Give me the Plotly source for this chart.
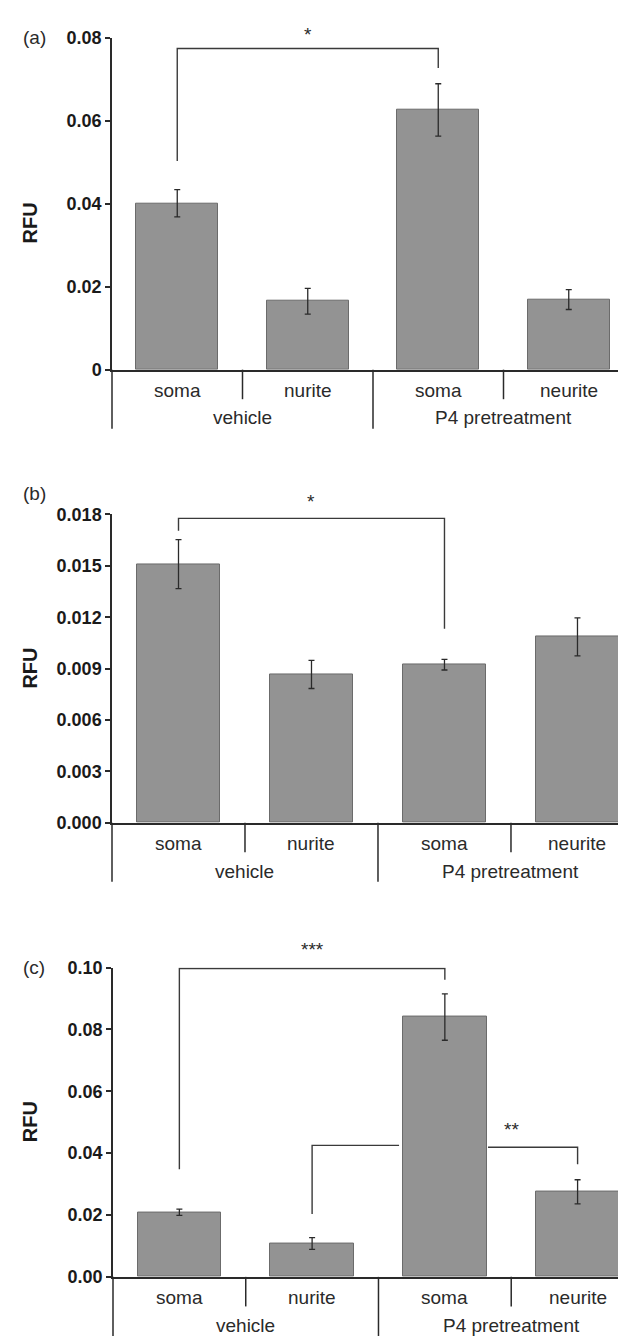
import plotly.graph_objects as go

W, H = 626, 1336

# ---------------- data ----------------
categories = ["soma", "nurite", "soma", "neurite"]
groups = ["vehicle", "P4 pretreatment"]

a_values = [0.0401, 0.0165, 0.0626, 0.0169]
a_errors = [0.0033, 0.0031, 0.0063, 0.0024]
a_ticks = [0, 0.02, 0.04, 0.06, 0.08]
a_ticktext = ["0", "0.02", "0.04", "0.06", "0.08"]

b_values = [0.01510, 0.00866, 0.00923, 0.01085]
b_errors = [0.00143, 0.00082, 0.00031, 0.00111]
b_ticks = [0, 0.003, 0.006, 0.009, 0.012, 0.015, 0.018]
b_ticktext = ["0.000", "0.003", "0.006", "0.009", "0.012", "0.015", "0.018"]

c_values = [0.0209, 0.0108, 0.0840, 0.0275]
c_errors = [0.0010, 0.0019, 0.0075, 0.0039]
c_ticks = [0, 0.02, 0.04, 0.06, 0.08, 0.10]
c_ticktext = ["0.00", "0.02", "0.04", "0.06", "0.08", "0.10"]

# significance brackets: (x_from, x_to, leg_from_bottom, top, leg_to_bottom, label, label_y)
a_brackets = [(0, 2, 0.0503, 0.0774, 0.0727, "*", 0.0808)]
b_brackets = [(0, 2, 0.01705, 0.01777, 0.01133, "*", 0.01875)]
c_brackets = [(0, 2, 0.0348, 0.0997, 0.0961, "***", 0.1058)]
c_bracket2 = (1, 3, 0.0203, 0.0425, 0.0364, "**", 0.0478)

# ---------------- layout geometry (pixels) ----------------
panels = [
    dict(name="(a)", vals=a_values, errs=a_errors, ticks=a_ticks, ttext=a_ticktext,
         top=20, bottom=357, left=104, xr=[-0.5, 3.5], brackets=a_brackets, lab_y=20),
    dict(name="(b)", vals=b_values, errs=b_errors, ticks=b_ticks, ttext=b_ticktext,
         top=504, bottom=817, left=104, xr=[-0.5, 3.425], brackets=b_brackets, lab_y=483),
    dict(name="(c)", vals=c_values, errs=c_errors, ticks=c_ticks, ttext=c_ticktext,
         top=964, bottom=1278, left=105, xr=[-0.5, 3.425], brackets=c_brackets, lab_y=964),
]

FONT = "Liberation Sans, Arial, sans-serif"
BAR = "#939393"
BAR_EDGE = "#6b6b6b"
INK = "#2a2a2a"


def py(px):
    return 1 - px / H


def val_paper(p, v):
    ymax = p["ticks"][-1]
    px = p["bottom"] - v / ymax * (p["bottom"] - p["top"])
    return py(px)


fig = go.Figure()
shapes = []
annotations = []

for i, p in enumerate(panels):
    k = "" if i == 0 else str(i + 1)
    xa, ya = "x" + k, "y" + k
    fig.add_trace(go.Bar(
        x=[0, 1, 2, 3], y=p["vals"], width=0.63,
        marker=dict(color=BAR, line=dict(color=BAR_EDGE, width=1)),
        error_y=dict(type="data", array=p["errs"], visible=True,
                     color=INK, thickness=1.3, width=3),
        xaxis=xa, yaxis=ya, showlegend=False, hoverinfo="skip",
    ))
    ymax = p["ticks"][-1]
    fig.update_layout(**{
        "xaxis" + k: dict(domain=[p["left"] / W, 1], range=p["xr"], showline=True,
                          linecolor=INK, linewidth=1.5, showticklabels=False,
                          ticks="", showgrid=False, zeroline=False, anchor=ya,
                          fixedrange=True),
        "yaxis" + k: dict(domain=[py(p["bottom"]), py(p["top"])], range=[0, ymax],
                          showline=True, linecolor=INK, linewidth=1.5,
                          ticks="outside", ticklen=5, tickwidth=1.5, tickcolor=INK,
                          tickvals=p["ticks"], ticktext=p["ttext"],
                          tickfont=dict(family=FONT, size=18, color="#1a1a1a", weight="bold"),
                          showgrid=False, zeroline=False, anchor=xa, fixedrange=True),
    })
    ybot = py(p["bottom"])
    # extended left axis line below zero
    shapes.append(dict(type="line", xref="paper", yref="paper",
                       x0=p["left"] / W, x1=p["left"] / W,
                       y0=ybot, y1=py(p["bottom"] + 60),
                       line=dict(color=INK, width=1.5)))
    # dividers
    for xd, ln in [(0.5, 30), (1.5, 60), (2.5, 30), (3.5, 60)]:
        shapes.append(dict(type="line", xref=xa, yref="paper", x0=xd, x1=xd,
                           y0=ybot, y1=py(p["bottom"] + ln),
                           line=dict(color=INK, width=1.5)))
    # category labels
    for ci, c in enumerate(categories):
        annotations.append(dict(text=c, x=ci, y=py(p["bottom"] + 21), xref=xa, yref="paper",
                                showarrow=False, xanchor="center", yanchor="middle",
                                font=dict(family=FONT, size=19, color=INK)))
    for gi, g in enumerate(groups):
        annotations.append(dict(text=g, x=0.5 + 2 * gi, y=py(p["bottom"] + 49), xref=xa,
                                yref="paper", showarrow=False, xanchor="center",
                                yanchor="middle", font=dict(family=FONT, size=19, color=INK)))
    # panel label
    annotations.append(dict(text=p["name"], x=26 / W, y=py(p["lab_y"]),
                            xref="paper", yref="paper", showarrow=False,
                            xanchor="center", yanchor="middle",
                            font=dict(family=FONT, size=19, color=INK)))
    # RFU title
    annotations.append(dict(text="<b>RFU</b>", x=22 / W,
                            y=py((p["top"] + p["bottom"]) / 2 + (20 if i == 0 else 0)),
                            xref="paper", yref="paper", showarrow=False, textangle=-90,
                            xanchor="center", yanchor="middle",
                            font=dict(family=FONT, size=20, color="#1a1a1a")))
    # brackets
    for (x0, x1, b0, top, b1, lab, ly) in p["brackets"]:
        shapes.append(dict(type="path", xref=xa, yref=ya,
                           path=f"M {x0},{b0} L {x0},{top} L {x1},{top} L {x1},{b1}",
                           line=dict(color="#3a3a3a", width=1.4)))
        annotations.append(dict(text=lab, x=(x0 + x1) / 2, y=val_paper(p, ly), xref=xa,
                                yref="paper", showarrow=False, xanchor="center",
                                yanchor="middle", font=dict(family=FONT, size=19, color=INK)))

# second bracket in panel (c), passing behind the tall bar
pc = panels[2]
x0, x1, b0, top, b1, lab, ly = c_bracket2
half = 0.63 / 2
shapes.append(dict(type="path", xref="x3", yref="y3",
                   path=f"M {x0},{b0} L {x0},{top} L {2 - half - 0.03},{top}",
                   line=dict(color="#3a3a3a", width=1.4)))
shapes.append(dict(type="path", xref="x3", yref="y3",
                   path=f"M {2 + half + 0.01},{top - 0.0006} L {x1},{top - 0.0006} L {x1},{b1}",
                   line=dict(color="#3a3a3a", width=1.4)))
annotations.append(dict(text=lab, x=2.5, y=val_paper(pc, ly), xref="x3", yref="paper",
                        showarrow=False, xanchor="center", yanchor="middle",
                        font=dict(family=FONT, size=19, color=INK)))

fig.update_layout(width=W, height=H, margin=dict(l=0, r=0, t=0, b=0),
                  paper_bgcolor="white", plot_bgcolor="white",
                  shapes=shapes, annotations=annotations, bargap=0)

fig.write_html("out.html")
